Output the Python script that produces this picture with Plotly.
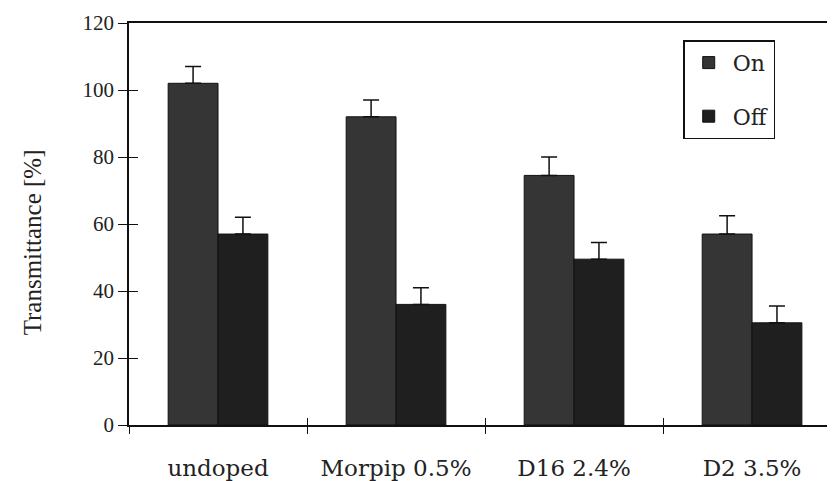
import plotly.graph_objects as go

categories = ["undoped", "Morpip 0.5%", "D16 2.4%", "D2 3.5%"]
on_values = [102, 92, 74.5, 57]
off_values = [57, 36, 49.5, 30.5]
on_errors = [5, 5, 5.5, 5.5]
off_errors = [5, 5, 5, 5]
y_ticks = [0, 20, 40, 60, 80, 100, 120]

serif = "Liberation Serif, Times New Roman, serif"
wide_serif = "DejaVu Serif, serif"

fig = go.Figure()

fig.add_trace(go.Bar(
    x=categories, y=on_values, name="On", legendgroup="on",
    marker=dict(color="#353535", line=dict(color="#111111", width=1)),
    error_y=dict(type="data", array=on_errors, arrayminus=[0] * 4,
                 symmetric=False, color="#111111", thickness=1.5, width=8),
))
fig.add_trace(go.Bar(
    x=categories, y=off_values, name="Off", legendgroup="off",
    marker=dict(color="#1f1f1f", line=dict(color="#111111", width=1)),
    error_y=dict(type="data", array=off_errors, arrayminus=[0] * 4,
                 symmetric=False, color="#111111", thickness=1.5, width=8),
))

# invisible trace to hang the inside ticks on
fig.add_trace(go.Scatter(x=categories, y=[0] * 4, xaxis="x2", yaxis="y2",
                         mode="markers", marker=dict(opacity=0),
                         showlegend=False, hoverinfo="skip"))

# page has an 8px body margin, so the figure is 8px smaller each way
fig.update_layout(
    width=827, height=473,
    margin=dict(l=121, r=0, t=15, b=56),
    paper_bgcolor="white", plot_bgcolor="white",
    barmode="group", bargap=0.44, bargroupgap=0,
    font=dict(family=serif, size=17, color="#222222"),
    showlegend=True,
    legend=dict(x=0.785, y=0.957, xanchor="left", yanchor="top",
                bordercolor="#111111", borderwidth=1.5, bgcolor="white",
                font=dict(family=wide_serif, size=22), tracegroupgap=22,
                itemwidth=38),
    xaxis=dict(range=[-0.5, 3.466], tickson="boundaries", ticks="outside",
               ticklen=7, tickcolor="#111111", tickwidth=1.2,
               showline=True, linecolor="#111111", linewidth=1.5, mirror=True,
               showgrid=False, ticklabelstandoff=22, automargin=False,
               tickfont=dict(family=wide_serif, size=23)),
    xaxis2=dict(overlaying="x", matches="x", tickson="boundaries",
                ticks="inside", ticklen=7, tickcolor="#111111", tickwidth=1.2,
                showticklabels=False, showgrid=False, showline=False,
                automargin=False),
    yaxis=dict(range=[0, 120], tickvals=y_ticks, ticks="outside", ticklen=9,
               tickcolor="#111111", tickwidth=1.2,
               showline=True, linecolor="#111111", linewidth=1.5,
               showgrid=False, zeroline=False, automargin=False,
               tickfont=dict(family=serif, size=21)),
    yaxis2=dict(overlaying="y", matches="y", tickvals=y_ticks,
                ticks="inside", ticklen=9, tickcolor="#111111", tickwidth=1.2,
                showticklabels=False, showgrid=False, zeroline=False,
                showline=False, automargin=False),
)

# y title sits a little below the middle of the axis in the original
fig.add_annotation(text="Transmittance [%]", textangle=-90,
                   xref="paper", yref="paper", x=-0.137, y=0.455,
                   xanchor="center", yanchor="middle",
                   showarrow=False, font=dict(family=serif, size=25))

fig.write_html("out.html")
